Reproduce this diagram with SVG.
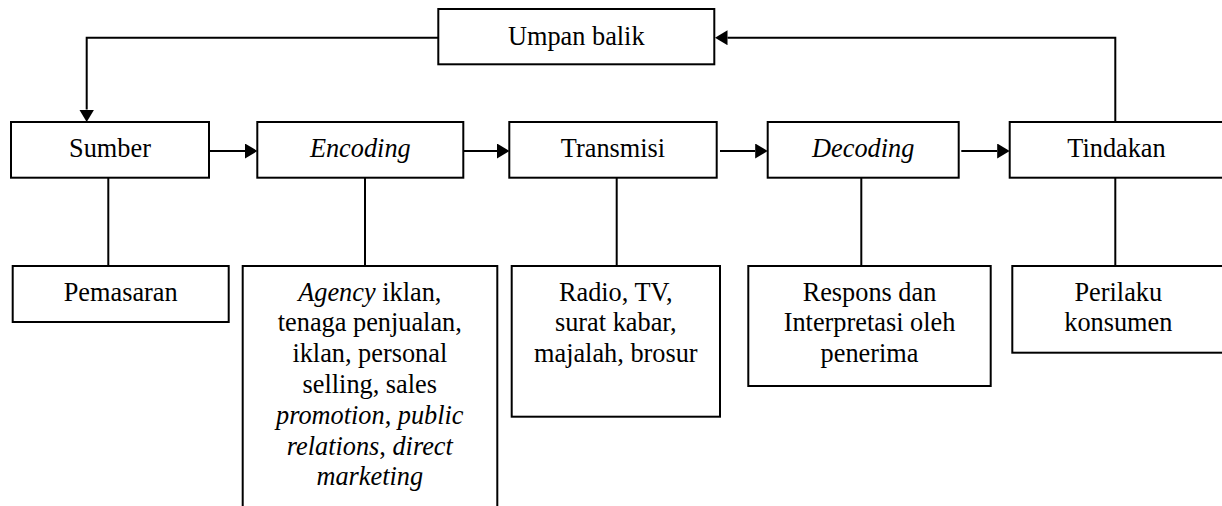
<svg xmlns="http://www.w3.org/2000/svg" width="1222" height="506" viewBox="0 0 1222 506">
<style>
.box{fill:#fff;stroke:#000;stroke-width:2}
.ln{fill:none;stroke:#000;stroke-width:2}
text{font-family:'Liberation Serif','Times New Roman','DejaVu Serif',serif;font-size:26.3px;fill:#000;text-anchor:middle}
.i{font-style:italic}
</style>
<defs>
<marker id="ah" markerUnits="userSpaceOnUse" markerWidth="14" markerHeight="16" refX="0" refY="7.5" orient="auto">
<path d="M0,0 L12.5,7.5 L0,15 Z" fill="#000"/>
</marker>
</defs>
<rect width="1222" height="506" fill="#fff"/>
<g id="connectors">
<path class="ln" d="M438.3,37.7 H86.7 V109.5" marker-end="url(#ah)"/>
<path class="ln" d="M1115.3,122 V37.7 H727.5" marker-end="url(#ah)"/>
<path class="ln" d="M209,151 H245" marker-end="url(#ah)"/>
<path class="ln" d="M463.3,151 H497" marker-end="url(#ah)"/>
<path class="ln" d="M720,151 H755.2" marker-end="url(#ah)"/>
<path class="ln" d="M961.3,151 H997.2" marker-end="url(#ah)"/>
<path class="ln" d="M108.3,178 V266"/>
<path class="ln" d="M365,178 V266"/>
<path class="ln" d="M616.7,178 V266"/>
<path class="ln" d="M861.3,178 V266"/>
<path class="ln" d="M1115.3,178 V266"/>
</g>
<g id="umpan-balik">
<rect class="box" x="438.3" y="9" width="276" height="55.3"/>
<text x="576.3" y="45" font-family="Liberation Serif">Umpan balik</text>
</g>
<g id="sumber">
<rect class="box" x="11" y="122" width="198" height="55.7"/>
<text x="110" y="157.3">Sumber</text>
</g>
<g id="encoding">
<rect class="box" x="257.3" y="122" width="206" height="55.7"/>
<text class="i" x="360.3" y="157.3">Encoding</text>
</g>
<g id="transmisi">
<rect class="box" x="509.3" y="122" width="207.4" height="55.7"/>
<text x="613" y="157.3">Transmisi</text>
</g>
<g id="decoding">
<rect class="box" x="767.7" y="122" width="191" height="55.7"/>
<text class="i" x="863.2" y="157.3">Decoding</text>
</g>
<g id="tindakan">
<rect class="box" x="1009.7" y="122" width="215" height="55.7"/>
<text x="1116.5" y="157.3">Tindakan</text>
</g>
<g id="pemasaran">
<rect class="box" x="12.7" y="266" width="216" height="56"/>
<text x="120.7" y="300.5">Pemasaran</text>
</g>
<g id="agency">
<rect class="box" x="242.7" y="266" width="254.6" height="250"/>
<text x="369.8" y="300.5"><tspan class="i">Agency</tspan> iklan,</text>
<text x="369.8" y="331.3">tenaga penjualan,</text>
<text x="369.8" y="362.1">iklan, personal</text>
<text x="369.8" y="392.9">selling, sales</text>
<text x="369.8" y="423.7"><tspan class="i">promotion</tspan>, <tspan class="i">public</tspan></text>
<text x="369.8" y="454.5"><tspan class="i">relations</tspan>, <tspan class="i">direct</tspan></text>
<text class="i" x="369.8" y="485.3">marketing</text>
</g>
<g id="media">
<rect class="box" x="511.7" y="266" width="208.3" height="150.7"/>
<text x="615.8" y="300.5">Radio, TV,</text>
<text x="615.8" y="331.3">surat kabar,</text>
<text x="615.8" y="362.1">majalah, brosur</text>
</g>
<g id="respons">
<rect class="box" x="748.3" y="266" width="242.4" height="120"/>
<text x="869.5" y="300.5">Respons dan</text>
<text x="869.5" y="331.3">Interpretasi oleh</text>
<text x="869.5" y="362.1">penerima</text>
</g>
<g id="perilaku">
<rect class="box" x="1012.3" y="266" width="215" height="86.7"/>
<text x="1118.3" y="300.5">Perilaku</text>
<text x="1118.3" y="331.3">konsumen</text>
</g>
</svg>
